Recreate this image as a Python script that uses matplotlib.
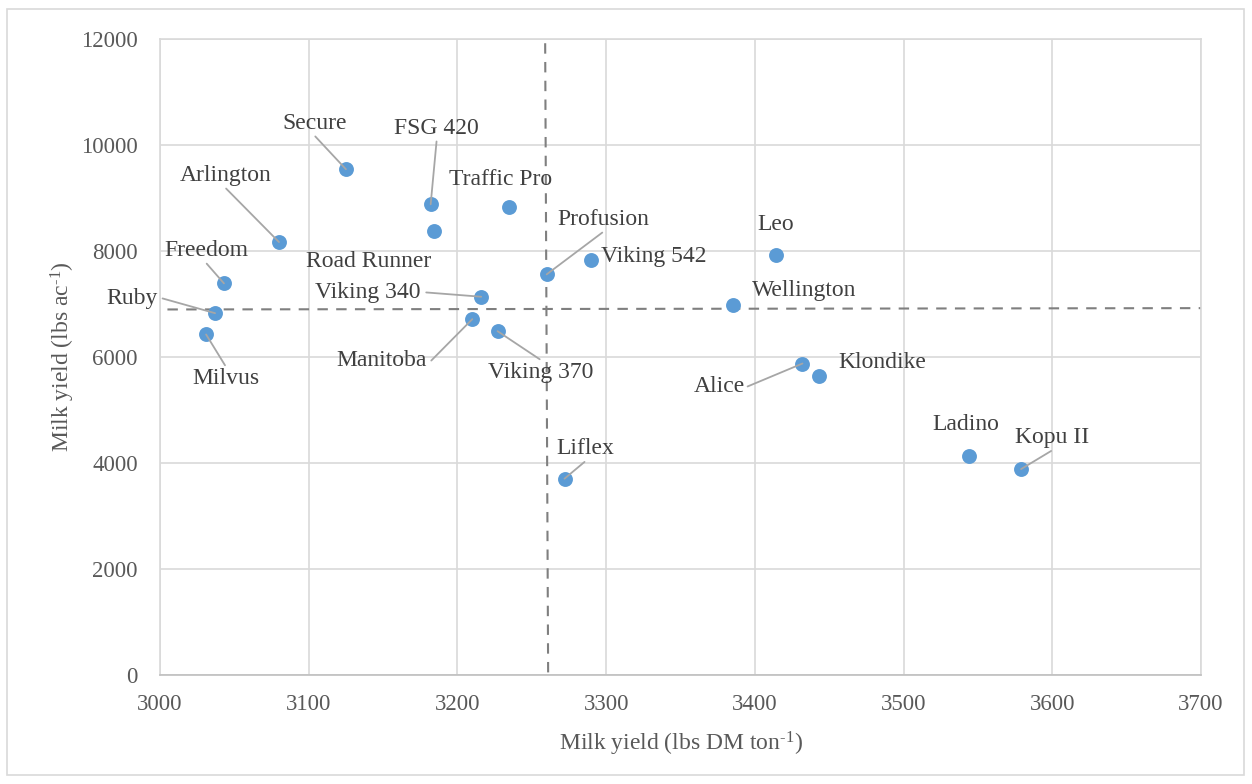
import matplotlib.pyplot as plt
from matplotlib.patches import Rectangle

plt.rcParams['font.family'] = ['Liberation Serif', 'DejaVu Serif']
plt.rcParams['mathtext.fontset'] = 'custom'
plt.rcParams['mathtext.rm'] = 'Liberation Serif'
plt.rcParams['mathtext.it'] = 'Liberation Serif:italic'

# cultivar data
cultivars = ['Secure', 'FSG 420', 'Road Runner', 'Traffic Pro', 'Profusion', 'Viking 542',
             'Leo', 'Viking 340', 'Manitoba', 'Viking 370', 'Wellington', 'Alice',
             'Arlington', 'Freedom', 'Ruby', 'Milvus', 'Klondike', 'Ladino', 'Kopu II', 'Liflex']
milk_per_ton = [3125, 3182, 3184, 3235, 3260, 3290,
                3414, 3216, 3210, 3227, 3385, 3432,
                3080, 3043, 3037, 3031, 3443, 3544, 3579, 3272]
milk_per_acre = [9543, 8881, 8377, 8830, 7559, 7836,
                 7931, 7137, 6714, 6487, 6973, 5877,
                 8169, 7389, 6827, 6425, 5643, 4127, 3885, 3704]

# average lines
avg_x_line = [3259, 3261]
avg_x_span = [11920, 0]
avg_y_span = [3005, 3700]
avg_y_line = [6897, 6922]

# label placement: (x, y, relpos of leader or None)
label_pos = {
    'Secure': (3104, 10412, (0.5, -0.1)),
    'FSG 420': (3186, 10317, (0.5, -0.1)),
    'Road Runner': (3140, 7804, None),
    'Traffic Pro': (3229, 9354, None),
    'Profusion': (3298, 8598, (0.5, -0.1)),
    'Viking 542': (3332, 7899, None),
    'Leo': (3414, 8503, None),
    'Viking 340': (3140, 7218, (1.05, 0.5)),
    'Manitoba': (3149, 5933, (1.05, 0.5)),
    'Viking 370': (3256, 5707, (0.5, 1.1)),
    'Wellington': (3433, 7256, None),
    'Alice': (3376, 5442, (1.05, 0.5)),
    'Arlington': (3044, 9429, (0.5, -0.1)),
    'Freedom': (3031, 8012, (0.5, -0.1)),
    'Ruby': (2981, 7105, (1.1, 0.5)),
    'Milvus': (3044, 5593, (0.5, 1.1)),
    'Klondike': (3486, 5896, None),
    'Ladino': (3542, 4724, None),
    'Kopu II': (3600, 4478, (0.5, -0.1)),
    'Liflex': (3286, 4271, (0.5, -0.1)),
}

fig = plt.figure(figsize=(12.52, 7.84), dpi=100)
ax = fig.add_axes([160/1252, 1-675/784, (1201-160)/1252, (675-39)/784])

# outer chart border
fig.patches.append(Rectangle((7/1252, 9/784), 1237/1252, 766/784, transform=fig.transFigure,
                             fill=False, edgecolor='#D9D9D9', linewidth=1.2))

ax.set_xlim(3000, 3700)
ax.set_ylim(0, 12000)
ax.set_xticks(range(3000, 3701, 100))
ax.set_yticks(range(0, 12001, 2000))
ax.grid(True, color='#D9D9D9', linewidth=1.2)
ax.set_axisbelow(True)
for s in ['top', 'right', 'left']:
    ax.spines[s].set_color('#D9D9D9')
    ax.spines[s].set_linewidth(1.2)
ax.spines['bottom'].set_color('#BFBFBF')
ax.spines['bottom'].set_linewidth(1.2)
ax.tick_params(length=0, labelsize=16.5, labelcolor='#595959')
ax.tick_params(axis='y', pad=16)
ax.tick_params(axis='x', pad=14)

ax.plot(avg_x_line, avg_x_span, ls=(0, (5, 4)), color='#7F7F7F', lw=1.5, clip_on=False)
ax.plot(avg_y_span, avg_y_line, ls=(0, (5, 4)), color='#7F7F7F', lw=1.5)

ax.scatter(milk_per_ton, milk_per_acre, s=115, color='#5B9BD5', zorder=3, linewidths=0)

for name, xv, yv in zip(cultivars, milk_per_ton, milk_per_acre):
    lx, ly, rel = label_pos[name]
    if rel is None:
        ax.annotate(name, xy=(xv, yv), xytext=(lx, ly), ha='center', va='center',
                    fontsize=17, color='#404040', annotation_clip=False)
    else:
        ax.annotate(name, xy=(xv, yv), xytext=(lx, ly), ha='center', va='center',
                    fontsize=17, color='#404040', annotation_clip=False,
                    arrowprops=dict(arrowstyle='-', color='#A6A6A6', lw=1.3,
                                    relpos=rel, shrinkA=0, shrinkB=0))

ax.set_xlabel(r'Milk yield (lbs DM ton$^{\text{-}1}$)', fontsize=17, color='#595959', labelpad=10)
ax.set_ylabel(r'Milk yield (lbs ac$^{\text{-}1}$)', fontsize=17, color='#595959', labelpad=3)

plt.savefig('out.png', dpi=100)
